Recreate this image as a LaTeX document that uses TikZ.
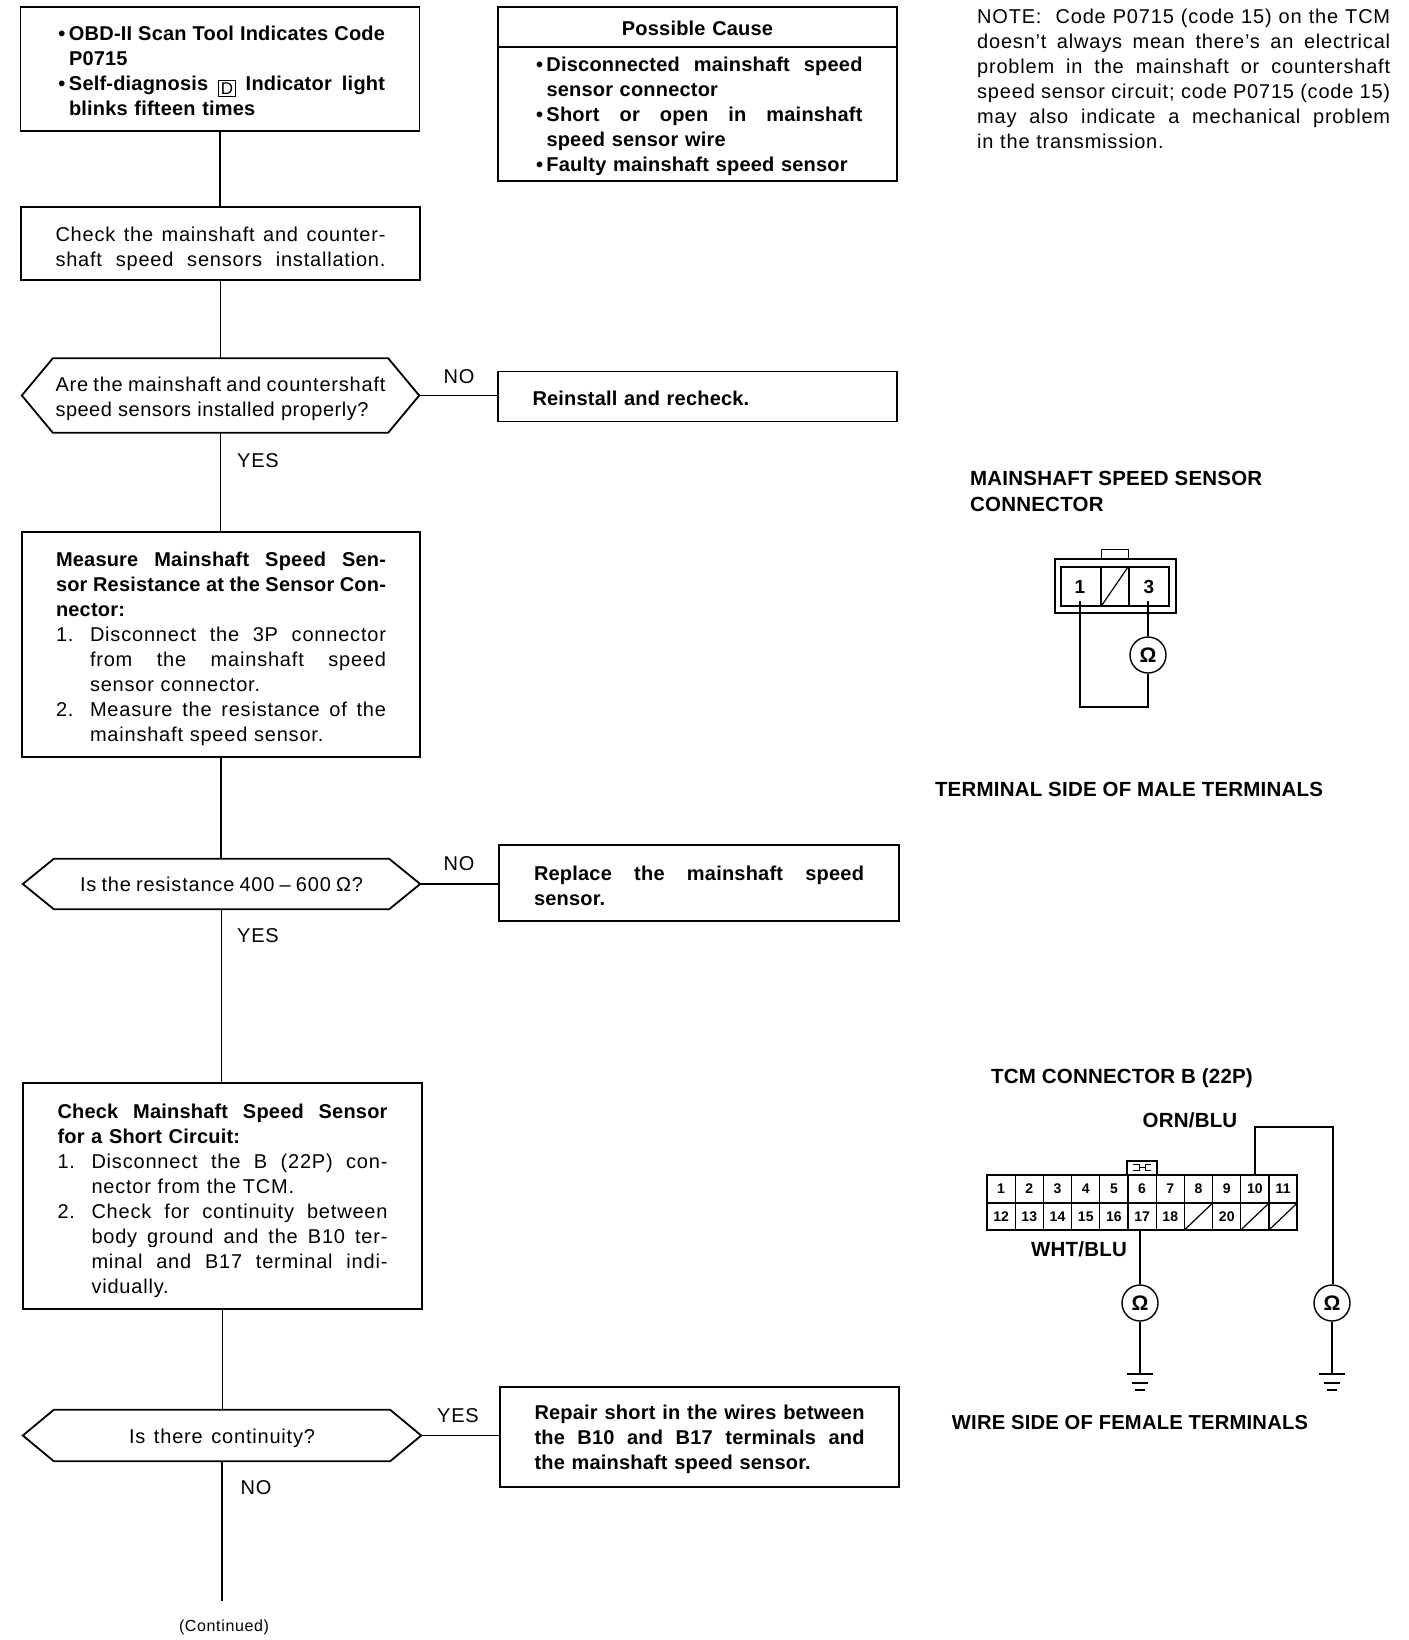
\documentclass[tikz,border=0pt]{standalone}
\usepackage{fontspec}
\setmainfont{Liberation Sans}[LetterSpace=4, BoldFeatures={LetterSpace=1}]
\usetikzlibrary{calc, positioning}
\newlength\flowtextwidth
\setlength\flowtextwidth{330pt}
\newcommand\fl[2][\flowtextwidth]{\makebox[#1][s]{\spaceskip=.28em plus 1em minus .15em\xspaceskip=\spaceskip #2}}
\newcommand\itm[1]{\makebox[14pt][c]{\textbullet}\fl[\dimexpr\flowtextwidth-14pt\relax]{#1}}
\newcommand\stp[2]{\makebox[34pt][l]{#1}\fl[\dimexpr\flowtextwidth-34pt\relax]{#2}}
\newcommand\topgap[1]{\rule{0pt}{\dimexpr14.6pt+#1\relax}}
\newcommand\spreadout{\addfontfeature{LetterSpace=3.5}}
\newcommand\tightened{\addfontfeature{LetterSpace=2.5}}
\newcommand\hexoutline[1]{%
    \draw [line width=1.8pt] (#1.west)
        -- ($(#1.north west) + (31, 0)$)
        -- ($(#1.north east) - (31, 0)$)
        -- (#1.east)
        -- ($(#1.south east) - (31, 0)$)
        -- ($(#1.south west) + (31, 0)$)
        -- cycle;}
\begin{document}
\begin{tikzpicture}[
    x=1pt,
    y=-1pt,
    flowbox/.style = {
        draw=black,
        line width=1.8pt,
        inner sep=0pt,
        text width=\flowtextwidth,
        align=left,
        font=\fontsize{20}{25}\selectfont,
    },
    boldbox/.style = {
        flowbox,
        font=\fontsize{20}{25}\selectfont\bfseries,
    },
    flowhex/.style = {
        inner sep=0pt,
        text width=\flowtextwidth,
        align=left,
        font=\fontsize{20}{25}\selectfont,
    },
    answer/.style = {
        inner sep=0pt,
        font=\fontsize{20}{25}\selectfont,
    },
    heading/.style = {
        inner sep=0pt,
        align=left,
        font=\fontsize{20.5}{25.5}\selectfont\bfseries,
    },
    link/.style = {
        draw=black,
        line width=1.6pt,
    },
    wire/.style = {
        draw=black,
        line width=1.6pt,
        line join=miter,
    },
    meter/.style = {
        draw=black,
        circle,
        line width=1.4pt,
        inner sep=0pt,
        minimum size=36pt,
        font=\fontsize{21}{21}\selectfont\bfseries,
    },
    pin/.style = {
        inner sep=0pt,
        font=\fontsize{14}{14}\selectfont\bfseries,
    },
    bigpin/.style = {
        pin,
        font=\fontsize{19}{19}\selectfont\bfseries,
    },
    earth/.pic = {
        \coordinate (-top) at (0, 0);
        \draw [wire] (-13, 0) -- (13, 0);
        \draw [wire] (-8, 9) -- (8, 9);
        \draw [wire] (-5, 16) -- (5, 16);
    },
]
\useasboundingbox (0, 0) rectangle (1408, 1640);

% flow column
\node [boldbox, minimum width=399pt, minimum height=124pt] (obd) at (220, 69) {%
    \topgap{4pt}\itm{OBD-II Scan Tool Indicates Code}\\
    \hspace*{14pt}P0715\\
    \itm{Self-diagnosis \raisebox{-3.5pt}[0pt][0pt]{\setlength\fboxsep{1.5pt}\setlength\fboxrule{.9pt}\fbox{\fontsize{17}{17}\selectfont\mdseries D}} Indicator light}\\
    \hspace*{14pt}blinks fifteen times};
\node [flowbox, minimum width=399pt, minimum height=73pt] (install) at (220.5, 243.5) {%
    \topgap{10pt}\fl{Check the mainshaft and counter-}\\
    \fl{shaft speed sensors installation.}};
\node [flowhex, minimum width=397pt, minimum height=74pt] (askinstall) at (220.5, 395.5) {%
    \topgap{6pt}\fl{Are the mainshaft and countershaft}\\
    \fl[313pt]{\tightened speed sensors installed properly?}};
\hexoutline{askinstall}
\node [flowbox, minimum width=398pt, minimum height=225pt] (measure) at (221, 644.5) {%
    \topgap{9pt}{\bfseries\fl{\spreadout Measure Mainshaft Speed Sen-}\\
    \fl{sor Resistance at the Sensor Con-}\\
    nector:}\\
    \stp{1.}{Disconnect the 3P connector}\\
    \hspace*{34pt}\fl[296pt]{from the mainshaft speed}\\
    \hspace*{34pt}sensor connector.\\
    \stp{2.}{Measure the resistance of the}\\
    \hspace*{34pt}mainshaft speed sensor.};
\node [flowhex, minimum width=397pt, minimum height=50pt, align=center] (askresist) at (221.5, 884) {\fl[283pt]{Is the resistance 400 -- 600 Ω?}};
\hexoutline{askresist}
\node [flowbox, minimum width=399pt, minimum height=226pt] (short) at (222.5, 1196) {%
    \topgap{9pt}{\bfseries\fl{\spreadout Check Mainshaft Speed Sensor}\\
    for a Short Circuit:}\\
    \stp{1.}{Disconnect the B (22P) con-}\\
    \hspace*{34pt}nector from the TCM.\\
    \stp{2.}{Check for continuity between}\\
    \hspace*{34pt}\fl[296pt]{body ground and the B10 ter-}\\
    \hspace*{34pt}\fl[296pt]{minal and B17 terminal indi-}\\
    \hspace*{34pt}vidually.};
\node [flowhex, minimum width=398pt, minimum height=51pt, align=center] (askshort) at (222, 1435.5) {%
    \topgap{6pt}\fl[186pt]{Is there continuity?}};
\hexoutline{askshort}
\coordinate (flowend) at (222.5, 1601);
\node [inner sep=0pt, font=\fontsize{16}{16}\selectfont] (continued) at (224, 1627) {(Continued)};

% right column
\node [boldbox, minimum width=399pt, minimum height=40pt, align=center] (causehead) at (697.5, 27) {%
    \topgap{2pt}Possible Cause};
\node [boldbox, minimum width=399pt, minimum height=134pt, below=-1.8pt of causehead] (cause) {%
    \topgap{4pt}\itm{\spreadout Disconnected mainshaft speed}\\
    \hspace*{14pt}sensor connector\\
    \itm{\spreadout Short or open in mainshaft}\\
    \hspace*{14pt}speed sensor wire\\
    \makebox[14pt][c]{\textbullet}Faulty mainshaft speed sensor};
\node [boldbox, minimum width=399pt, minimum height=50pt] (reinstall) at (697.5, 396.5) {%
    \topgap{4pt}Reinstall and recheck.};
\node [boldbox, minimum width=400pt, minimum height=76pt] (replace) at (699, 883) {%
    \topgap{6pt}\fl{\spreadout Replace the mainshaft speed}\\
    sensor.};
\node [boldbox, minimum width=399pt, minimum height=100pt] (repair) at (699.5, 1437) {%
    \topgap{5pt}\fl{Repair short in the wires between}\\
    \fl{\spreadout the B10 and B17 terminals and}\\
    the mainshaft speed sensor.};

% connectors
\draw [link] (obd.south) -- (obd.south |- install.north);
\draw [link] (install.south) -- (install.south |- askinstall.north);
\draw [link] (askinstall.south) -- (askinstall.south |- measure.north);
\draw [link] (measure.south) -- (measure.south |- askresist.north);
\draw [link] (askresist.south) -- (askresist.south |- short.north);
\draw [link] (short.south) -- (short.south |- askshort.north);
\draw [link] (askshort.south) -- (askshort.south |- flowend);
\draw [link] (askinstall.east) -- (askinstall.east -| reinstall.west);
\draw [link] (askresist.east) -- (askresist.east -| replace.west);
\draw [link] (askshort.east) -- (askshort.east -| repair.west);
\node [answer] (noinstall) at (459, 377) {NO};
\node [answer] (yesinstall) at (258, 461) {YES};
\node [answer] (noresist) at (459, 864) {NO};
\node [answer] (yesresist) at (258, 936) {YES};
\node [answer] (yesshort) at (458, 1416) {YES};
\node [answer] (noshort) at (256, 1488) {NO};

% note
\node [inner sep=0pt, anchor=north west, text width=413pt, align=left, font=\fontsize{20}{25}\selectfont] (note) at (977, 9) {%
    \fl[413pt]{NOTE:\ \ Code P0715 (code 15) on the TCM}\\
    \fl[413pt]{doesn't always mean there's an electrical}\\
    \fl[413pt]{problem in the mainshaft or countershaft}\\
    \fl[413pt]{speed sensor circuit; code P0715 (code 15)}\\
    \fl[413pt]{may also indicate a mechanical problem}\\
    in the transmission.};

% mainshaft speed sensor connector
\node [heading, anchor=north west] (sensortitle) at (970, 471) {MAINSHAFT SPEED SENSOR\\CONNECTOR};
\draw [line width=1.4pt] (1055, 559) rectangle (1176, 613);
\draw [line width=1.8pt] (1061, 567) rectangle (1169, 606);
\draw [line width=1pt] (1101, 559) -- (1101, 549) -- (1128, 549) -- (1128, 559);
\draw [line width=1.2pt] (1101, 567) -- (1101, 606);
\draw [line width=1.2pt] (1129, 567) -- (1129, 606);
\draw [line width=1.2pt] (1102, 605) -- (1128, 567);
\node [bigpin] (sensorone) at (1080, 587) {1};
\node [bigpin] (sensorthree) at (1149, 587) {3};
\node [meter] (sensormeter) at (1148, 655) {Ω};
\coordinate (sensorportone) at (1080, 601);
\coordinate (sensorportthree) at (1148, 601);
\coordinate (sensorturn) at (1080, 707);
\draw [wire] (sensorportthree) -- (sensormeter.north);
\draw [wire] (sensorportone) -- (sensorturn) -- (sensorturn -| sensormeter.south) -- (sensormeter.south);
\node [heading] (maleside) at (1129, 789) {TERMINAL SIDE OF MALE TERMINALS};

% TCM connector
\node [heading] (tcmtitle) at (1122, 1078) {TCM CONNECTOR B (22P)};
\node [heading] (orn) at (1190, 1120) {ORN/BLU};
\node [heading] (wht) at (1079, 1249) {WHT/BLU};
\draw [line width=1.8pt] (987, 1175) rectangle (1297, 1230);
\draw [line width=1.6pt] (987, 1203) -- (1297, 1203);
\foreach \col in {1, ..., 10}
    \draw [line width=1.2pt] ({987 + 28.2 * \col}, 1175) -- ({987 + 28.2 * \col}, 1230);
\foreach \n [count=\i] in {1, ..., 11}
    \node [pin] (pin\n) at ({987 + 28.2 * (\i - .5)}, 1189) {\n};
\foreach \n [count=\i] in {12, 13, 14, 15, 16, 17, 18}
    \node [pin] (pin\n) at ({987 + 28.2 * (\i - .5)}, 1217) {\n};
\node [pin] (pin20) at ({987 + 28.2 * 8.5}, 1217) {20};
\foreach \col in {7, 9, 10}
    \draw [line width=1.2pt] ({988 + 28.2 * \col}, 1229) -- ({986 + 28.2 * (\col + 1)}, 1204);
\draw [line width=1.6pt] (1127, 1175) rectangle (1157, 1161);
\draw [line width=1pt] (1133, 1164) -- (1139, 1164) -- (1139, 1170) -- (1133, 1170);
\draw [line width=1pt] (1151, 1164) -- (1145, 1164) -- (1145, 1170) -- (1151, 1170);
\draw [line width=1pt] (1139, 1167) -- (1145, 1167);
\node [meter] (whtmeter) at (1140, 1303) {Ω};
\node [meter] (ornmeter) at (1332, 1303) {Ω};
\pic (whtearth) at (1140, 1374) {earth};
\pic (ornearth) at (1332, 1374) {earth};
\coordinate (orntop) at (1333, 1127);
\draw [wire] (pin10 |- 1, 1175) -- (pin10 |- orntop) -- (orntop) -- (orntop |- ornmeter.north);
\draw [wire] (whtmeter.north |- 1, 1230) -- (whtmeter.north);
\draw [wire] (whtmeter.south) -- (whtearth-top);
\draw [wire] (ornmeter.south) -- (ornearth-top);
\node [heading, font=\fontsize{20.2}{25}\selectfont\bfseries] (femaleside) at (1130, 1423) {WIRE SIDE OF FEMALE TERMINALS};
\end{tikzpicture}
\end{document}
